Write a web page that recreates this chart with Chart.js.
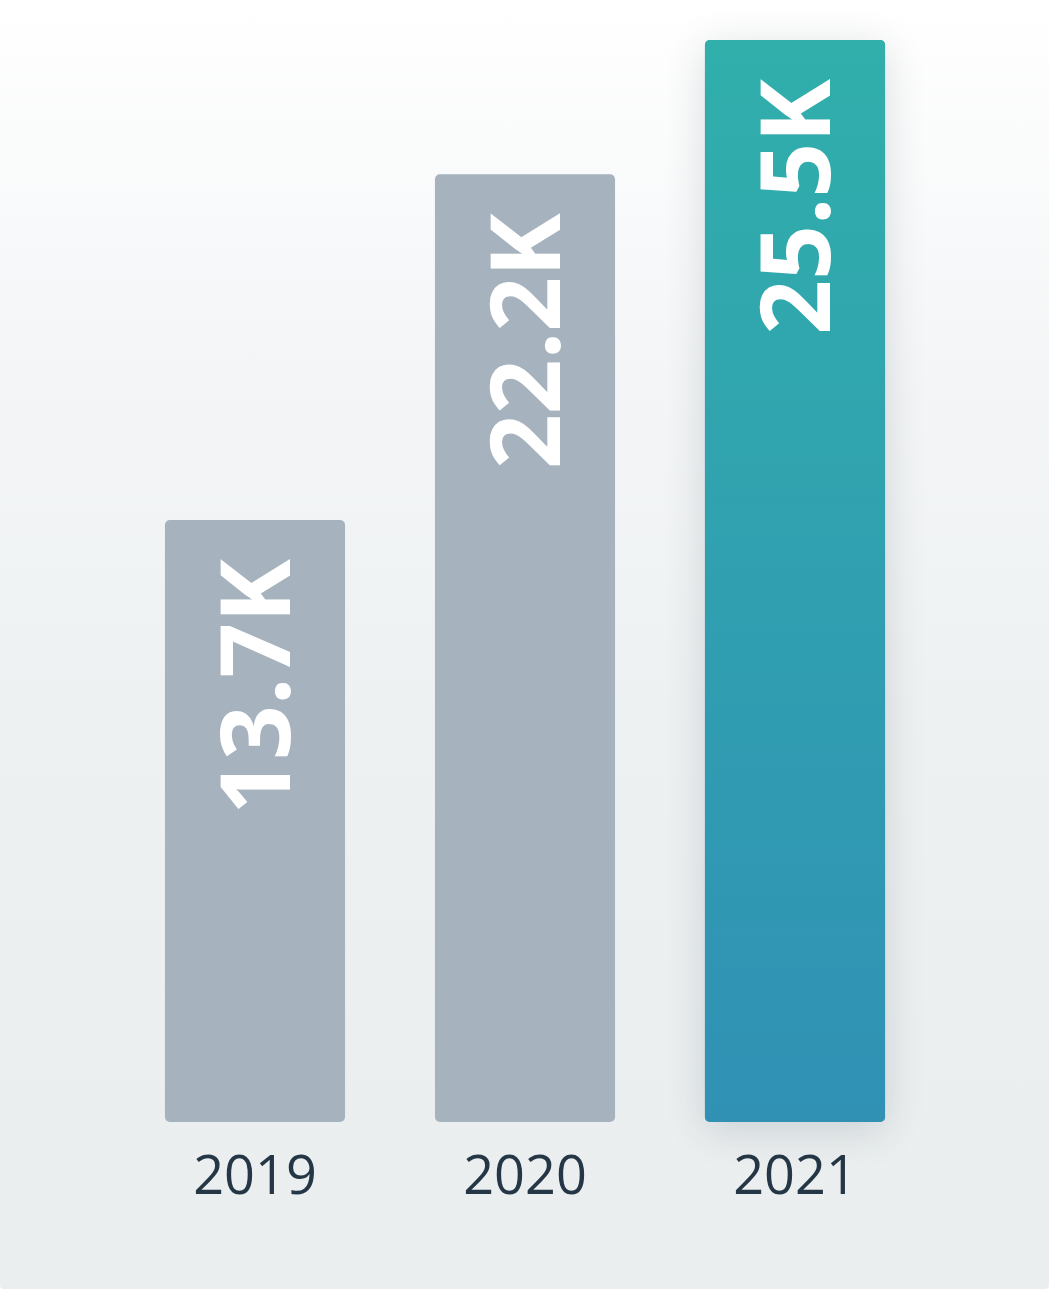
<!DOCTYPE html>
<html>
<head>
<meta charset="utf-8">
<script src="https://cdn.jsdelivr.net/npm/chart.js@4"></script>
<style>
  html, body { margin: 0; padding: 0; background: #ffffff; }
  #card {
    position: absolute; left: 0; top: 0;
    width: 1049px; height: 1289px;
    border-radius: 4px;
    background: linear-gradient(to bottom, #ffffff 0%, #f3f5f6 30%, #eef1f2 55%, #ebeff0 80%, #eaeeef 100%);
  }
  canvas { position: absolute; left: 0; top: 0; }
</style>
</head>
<body>
<div id="card"></div>
<canvas id="chart" width="1050" height="1290"></canvas>
<script>
// data
const years = ['2019', '2020', '2021'];
const visits = [13700, 22200, 25500];
const valueLabels = ['13.7K', '22.2K', '25.5K'];
const highlight = 2; // last year stands out

const gray = '#a6b2bd';
const tealTop = '#30afab';
const tealBottom = '#3091b5';

function barColor(context) {
  const chart = context.chart;
  const area = chart.chartArea;
  if (context.dataIndex !== highlight) return gray;
  if (!area) return tealTop;
  const g = chart.ctx.createLinearGradient(0, area.top, 0, area.bottom);
  g.addColorStop(0, tealTop);
  g.addColorStop(1, tealBottom);
  return g;
}

// soft shadow behind the highlighted bar
const shadowPlugin = {
  id: 'barShadow',
  beforeDatasetsDraw(chart) {
    const bar = chart.getDatasetMeta(0).data[highlight];
    if (!bar) return;
    const ctx = chart.ctx;
    const p = bar.getProps(['x', 'y', 'base', 'width'], true);
    ctx.save();
    ctx.shadowColor = 'rgba(40, 50, 60, 0.16)';
    ctx.shadowBlur = 40;
    ctx.shadowOffsetY = 8;
    ctx.fillStyle = tealBottom;
    ctx.beginPath();
    ctx.roundRect(p.x - p.width / 2, p.y, p.width, p.base - p.y, 5);
    ctx.fill();
    ctx.restore();
  }
};

// rotated value labels inside the bars
const labelPlugin = {
  id: 'valueLabels',
  afterDatasetsDraw(chart) {
    const ctx = chart.ctx;
    chart.getDatasetMeta(0).data.forEach((bar, i) => {
      const p = bar.getProps(['x', 'y'], true);
      ctx.save();
      ctx.translate(p.x + 35, p.y + 39);
      ctx.rotate(-Math.PI / 2);
      ctx.font = 'bold 96px "Open Sans", sans-serif';
      ctx.fillStyle = '#ffffff';
      ctx.textAlign = 'right';
      ctx.textBaseline = 'alphabetic';
      ctx.fillText(valueLabels[i], 0, 0);
      ctx.restore();
    });
  }
};

const ctx = document.getElementById('chart').getContext('2d');
const myChart = new Chart(ctx, {
  type: 'bar',
  data: {
    labels: years,
    datasets: [{
      data: visits,
      base: -1100,
      backgroundColor: barColor,
      borderRadius: 5,
      borderSkipped: false,
      barPercentage: 1,
      categoryPercentage: 0.667
    }]
  },
  options: {
    responsive: false,
    animation: false,
    layout: { padding: { top: 40, left: 120, right: 120, bottom: 0 } },
    plugins: {
      legend: { display: false },
      tooltip: { enabled: false }
    },
    scales: {
      x: {
        grid: { display: false, drawTicks: false },
        border: { display: false },
        ticks: {
          color: '#253746',
          padding: 24,
          font: { family: '"Open Sans", sans-serif', size: 54 }
        },
        afterFit(scale) { scale.height = 168; }
      },
      y: {
        display: false,
        min: -1100,
        max: 25500
      }
    }
  },
  plugins: [shadowPlugin, labelPlugin]
});
</script>
</body>
</html>
